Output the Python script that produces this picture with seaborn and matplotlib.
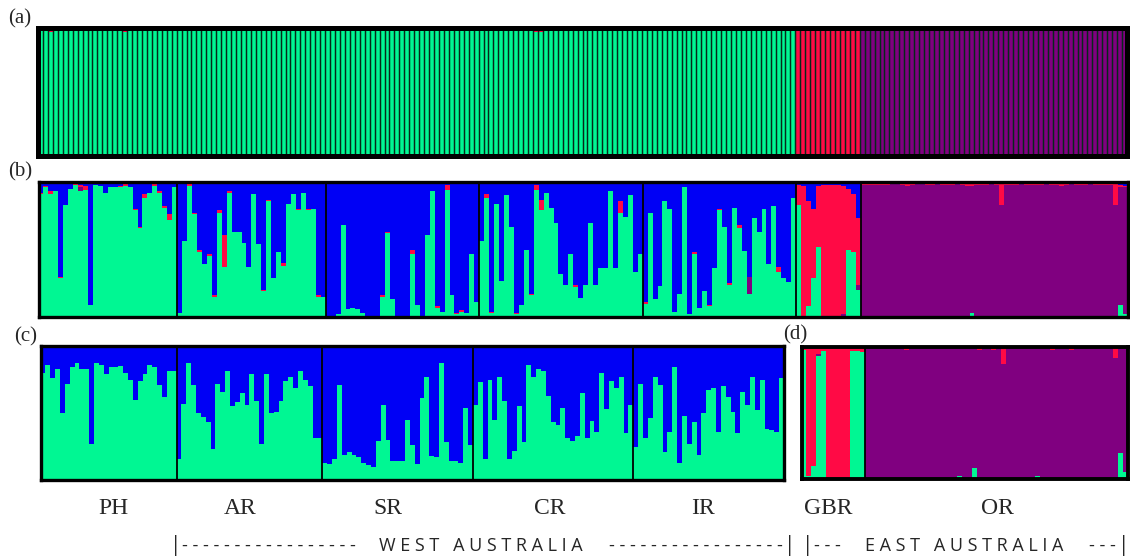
import numpy as np
import pandas as pd
import matplotlib
matplotlib.use("Agg")
import matplotlib.pyplot as plt
import seaborn as sns

# ---------------- data ----------------
populations = ["PH", "AR", "SR", "CR", "IR", "GBR", "OR"]

# panel (b): K=4 (green, purple, red, blue)
PH_b_green = [0.91,0.96,0.91,0.93,0.29,0.83,0.95,0.98,0.93,0.94,
              0.09,0.98,0.97,0.92,0.96,0.96,0.96,0.97,0.96,0.79,
              0.66,0.88,0.92,0.97,0.92,0.81,0.72,0.96]
PH_b_red = [0.01,0.01,0.02,0.00,0.01,0.00,0.00,0.01,0.02,0.03,
            0.00,0.00,0.00,0.00,0.00,0.00,0.01,0.02,0.00,0.01,
            0.01,0.03,0.00,0.02,0.01,0.01,0.04,0.00]
PH_b_purple = [0,0,0,0,0,0,0,0,0.03,0,
               0,0,0,0,0,0,0,0,0,0,
               0,0,0,0,0,0,0,0]

AR_b_green = [0.03,0.56,0.97,0.76,0.48,0.39,0.45,0.15,0.77,0.37,
              0.92,0.63,0.63,0.55,0.37,0.91,0.54,0.19,0.86,0.29,
              0.48,0.38,0.84,0.91,0.79,0.92,0.79,0.80,0.15,0.15]
AR_b_red = [0.00,0.00,0.02,0.01,0.02,0.00,0.02,0.01,0.02,0.24,
            0.01,0.00,0.00,0.00,0.00,0.00,0.00,0.01,0.01,0.00,
            0.00,0.02,0.00,0.00,0.01,0.00,0.01,0.00,0.01,0.00]
AR_b_purple = [0,0,0,0,0,0,0,0,0,0,
               0,0,0,0,0,0,0,0,0,0,
               0,0,0,0,0,0,0,0,0,0]

SR_b_green = [0.01,0.01,0.02,0.68,0.06,0.07,0.06,0.03,0.01,0.01,
              0.00,0.15,0.62,0.13,0.01,0.01,0.01,0.47,0.09,0.01,
              0.61,0.93,0.07,0.04,0.94,0.16,0.02,0.04,0.03,0.47,
              0.11]
SR_b_red = [0.00,0.00,0.00,0.00,0.00,0.00,0.00,0.00,0.00,0.00,
            0.00,0.01,0.01,0.00,0.00,0.00,0.00,0.03,0.00,0.00,
            0.00,0.00,0.01,0.00,0.04,0.00,0.01,0.01,0.00,0.00,
            0.00]
SR_b_purple = [0,0,0,0,0,0,0,0,0,0,
               0,0,0,0,0,0,0,0,0,0,
               0,0,0,0,0,0,0,0,0,0,
               0]

CR_b_green = [0.56,0.88,0.03,0.84,0.27,0.90,0.67,0.02,0.09,0.50,
              0.16,0.94,0.79,0.92,0.81,0.70,0.32,0.24,0.47,0.22,
              0.14,0.24,0.70,0.24,0.36,0.36,0.93,0.36,0.77,0.74,
              0.90,0.33,0.47]
CR_b_red = [0.00,0.03,0.01,0.00,0.00,0.00,0.00,0.01,0.00,0.00,
            0.01,0.04,0.08,0.00,0.00,0.00,0.00,0.00,0.00,0.02,
            0.00,0.00,0.00,0.00,0.00,0.00,0.00,0.00,0.09,0.00,
            0.00,0.00,0.00]
CR_b_purple = [0,0,0,0,0,0,0,0,0,0,
               0,0,0,0,0,0,0,0,0,0,
               0,0,0,0,0,0,0,0,0,0,
               0,0,0]

IR_b_green = [0.10,0.77,0.13,0.23,0.86,0.80,0.04,0.17,0.96,0.02,
              0.47,0.07,0.19,0.08,0.36,0.79,0.67,0.24,0.81,0.66,
              0.49,0.17,0.73,0.63,0.80,0.39,0.82,0.33,0.29,0.26,
              0.88]
IR_b_red = [0.01,0.00,0.00,0.00,0.00,0.00,0.00,0.00,0.00,0.00,
            0.01,0.00,0.00,0.01,0.00,0.01,0.00,0.01,0.00,0.02,
            0.00,0.00,0.00,0.00,0.00,0.00,0.00,0.04,0.00,0.00,
            0.00]
IR_b_purple = [0,0,0,0,0,0,0,0,0,0,
               0,0,0,0,0,0,0,0,0,0,
               0,0.13,0,0,0,0,0,0,0,0,
               0]

GBR_b_green = [0.83,0.00,0.08,0.29,0.52,0.00,0.00,0.00,0.00,0.00,0.50,0.48,0.20]
GBR_b_purple = [0.00,0.00,0.00,0.00,0.00,0.00,0.00,0.00,0.01,0.02,0.00,0.00,0.04]
GBR_b_blue = [0.02,0.03,0.14,0.20,0.03,0.02,0.02,0.02,0.02,0.03,0.05,0.09,0.27]

OR_b_green = [0,0,0,0,0,0,0,0,0,0,
              0,0,0,0,0,0,0,0,0,0,
              0,0,0.03,0,0,0,0,0,0,0,
              0,0,0,0,0,0.01,0,0,0,0,
              0,0,0,0,0,0,0,0,0,0,
              0,0,0.09,0.02]
OR_b_red = [0.01,0.01,0.01,0.01,0.01,0.01,0.00,0.00,0.01,0.02,
            0.01,0.00,0.00,0.01,0.01,0.00,0.01,0.01,0.01,0.00,
            0.01,0.02,0.02,0.01,0.01,0.01,0.00,0.01,0.16,0.01,
            0.01,0.01,0.00,0.01,0.01,0.01,0.01,0.00,0.01,0.01,
            0.02,0.01,0.00,0.01,0.01,0.01,0.00,0.01,0.01,0.01,
            0.01,0.16,0.02,0.01]
OR_b_blue = [0.01,0.01,0.01,0.01,0.01,0.01,0.01,0.01,0.01,0.01,
             0.01,0.01,0.01,0.01,0.01,0.01,0.01,0.01,0.01,0.01,
             0.01,0.01,0.01,0.01,0.01,0.01,0.01,0.01,0.01,0.01,
             0.01,0.01,0.01,0.01,0.01,0.01,0.01,0.01,0.01,0.01,
             0.01,0.01,0.01,0.01,0.01,0.01,0.01,0.01,0.01,0.01,
             0.01,0.01,0.02,0.03]

# panel (c): K=2 (green, blue) west populations only
PH_c_green = [0.80,0.86,0.76,0.83,0.50,0.72,0.84,0.87,0.83,0.83,
              0.27,0.87,0.86,0.79,0.84,0.84,0.85,0.80,0.75,0.60,
              0.74,0.79,0.86,0.84,0.71,0.62,0.81,0.81]
AR_c_green = [0.16,0.57,0.87,0.71,0.50,0.47,0.43,0.23,0.72,0.66,
              0.81,0.55,0.58,0.65,0.56,0.79,0.59,0.27,0.79,0.50,
              0.51,0.59,0.74,0.77,0.69,0.81,0.75,0.70,0.31,0.31]
SR_c_green = [0.13,0.12,0.16,0.71,0.19,0.21,0.19,0.17,0.13,0.11,
              0.10,0.29,0.56,0.30,0.14,0.14,0.14,0.45,0.26,0.12,
              0.61,0.77,0.18,0.17,0.87,0.28,0.14,0.14,0.13,0.54,
              0.26]
CR_c_green = [0.56,0.73,0.16,0.75,0.45,0.77,0.59,0.16,0.22,0.55,
              0.28,0.86,0.77,0.83,0.81,0.63,0.43,0.41,0.54,0.31,
              0.29,0.33,0.65,0.31,0.44,0.36,0.80,0.53,0.74,0.69,
              0.77,0.35,0.56]
IR_c_green = [0.25,0.72,0.31,0.46,0.77,0.71,0.21,0.36,0.84,0.13,
              0.48,0.27,0.43,0.19,0.50,0.67,0.69,0.36,0.70,0.62,
              0.51,0.35,0.66,0.56,0.77,0.52,0.75,0.38,0.37,0.36,
              0.76]

# panel (d): K=3 (green, purple, red) east populations only
GBR_d_green = [0.98,0.02,0.10,0.93,0.97,0.00,0.00,0.00,0.00,0.00,0.97,0.97,0.96]
GBR_d_purple = [0.00,0.00,0.00,0.02,0.00,0.00,0.00,0.01,0.01,0.01,0.00,0.00,0.00]
OR_d_green = [0,0,0,0,0,0,0,0,0,0,
              0,0,0,0,0,0,0,0,0,0.02,
              0,0,0.08,0,0,0,0,0,0,0,
              0,0,0,0,0,0.02,0,0,0,0.01,
              0.01,0.01,0.01,0,0,0,0,0,0,0,
              0,0,0.20,0.05]
OR_d_red = [0.01,0.01,0.01,0.01,0.01,0.01,0.01,0.01,0.02,0.01,
            0.01,0.01,0.01,0.01,0.00,0.01,0.01,0.01,0.01,0.01,
            0.01,0.01,0.01,0.02,0.01,0.01,0.02,0.01,0.13,0.01,
            0.01,0.01,0.01,0.01,0.01,0.01,0.01,0.01,0.02,0.01,
            0.01,0.01,0.02,0.01,0.01,0.01,0.01,0.01,0.01,0.01,
            0.01,0.08,0.01,0.01]

# panel (a): K=3 (green, purple, red); red share on top of each bar
PH_a_red = [0.01,0.01,0.03,0.01,0.01,0.01,0.01,0.01,0.01,0.01,
            0.01,0.01,0.01,0.01,0.01,0.01,0.01,0.03,0.01,0.01,
            0.01,0.01,0.01,0.01,0.01,0.01,0.01,0.01]
AR_a_red = [0.01,0.01,0.01,0.01,0.01,0.01,0.01,0.01,0.01,0.01,
            0.01,0.01,0.01,0.01,0.01,0.01,0.01,0.01,0.01,0.01,
            0.01,0.01,0.01,0.01,0.01,0.01,0.01,0.01,0.01,0.01]
SR_a_red = [0.01,0.01,0.01,0.01,0.01,0.01,0.01,0.01,0.01,0.01,
            0.01,0.01,0.01,0.01,0.01,0.01,0.01,0.01,0.01,0.01,
            0.01,0.01,0.01,0.01,0.01,0.01,0.01,0.01,0.01,0.01,
            0.01]
CR_a_red = [0.01,0.01,0.01,0.01,0.01,0.01,0.01,0.01,0.01,0.01,
            0.01,0.03,0.03,0.01,0.01,0.01,0.01,0.01,0.01,0.01,
            0.01,0.01,0.01,0.01,0.01,0.01,0.01,0.01,0.01,0.01,
            0.01,0.01,0.01]
IR_a_red = [0.01,0.01,0.01,0.01,0.01,0.01,0.01,0.01,0.01,0.01,
            0.01,0.01,0.01,0.01,0.01,0.01,0.01,0.01,0.01,0.01,
            0.01,0.01,0.01,0.01,0.01,0.01,0.01,0.01,0.01,0.01,
            0.01]
GBR_a_green = [0.01,0.00,0.00,0.01,0.01,0.00,0.00,0.00,0.00,0.00,0.01,0.01,0.00]
OR_a_red = [0.01,0.01,0.01,0.01,0.01,0.01,0.01,0.01,0.01,0.01,
            0.01,0.01,0.01,0.01,0.01,0.01,0.01,0.01,0.01,0.01,
            0.01,0.01,0.01,0.01,0.01,0.01,0.01,0.01,0.01,0.01,
            0.01,0.01,0.01,0.01,0.01,0.01,0.01,0.01,0.01,0.01,
            0.01,0.01,0.01,0.01,0.01,0.01,0.01,0.01,0.01,0.01,
            0.01,0.01,0.01,0.01]

panel_tags = ["(a)", "(b)", "(c)", "(d)"]
region_labels = ["W E S T   A U S T R A L I A", "E A S T   A U S T R A L I A"]

# ---------------- style ----------------
GREEN = "#00F793"
BLUE = "#0000F5"
RED = "#FF0A45"
PURPLE = "#800080"

sns.set_theme(style="white")
plt.rcParams["font.family"] = ["Liberation Serif", "DejaVu Serif"]

W, H = 1130, 557
fig = plt.figure(figsize=(W / 100, H / 100), dpi=100)


def add_ax(x0, y0, x1, y1):
    return fig.add_axes([x0 / W, 1 - y1 / H, (x1 - x0) / W, (y1 - y0) / H])


def draw_stack(ax, comps, colors, frame_lw):
    n = len(comps[0])
    cum = np.zeros(n)
    cums = []
    for c in comps:
        cum = cum + np.asarray(c, dtype=float)
        cums.append(cum.copy())
    df = pd.DataFrame({"ind": np.arange(n)})
    for i in range(len(cums)):
        df[f"c{i}"] = cums[i]
    for i in reversed(range(len(cums))):
        sns.barplot(data=df, x="ind", y=f"c{i}", color=colors[i], width=1.0,
                    native_scale=True, orient="x", saturation=1, errorbar=None,
                    linewidth=0, antialiased=False, ax=ax)
    ax.set_xlim(-0.5, n - 0.5)
    ax.set_ylim(0, 1)
    ax.set_xticks([])
    ax.set_yticks([])
    ax.set_xlabel("")
    ax.set_ylabel("")
    for s in ax.spines.values():
        s.set_visible(True)
        s.set_color("black")
        s.set_linewidth(frame_lw)
    return df


def dividers(ax, sizes):
    edges = np.cumsum(sizes)[:-1]
    for e in edges:
        ax.axvline(e - 0.5, color="black", lw=1.3)


def rem(*parts):
    tot = np.sum([np.asarray(p, dtype=float) for p in parts], axis=0)
    return np.clip(1 - tot, 0, 1)


# ----- panel (a) -----
west_a_red = PH_a_red + AR_a_red + SR_a_red + CR_a_red + IR_a_red
a_green = list(rem(west_a_red)) + GBR_a_green + [0.0] * len(OR_a_red)
a_purple = [0.0] * len(west_a_red) + [0.0] * len(GBR_a_green) + list(rem(OR_a_red))
a_red = west_a_red + list(rem(GBR_a_green)) + OR_a_red
ax_a = add_ax(38, 28, 1127, 155.5)
df_a = draw_stack(ax_a, [a_green, a_purple, a_red], [GREEN, PURPLE, RED], 3.6)
df_a["one"] = 1.0
sns.barplot(data=df_a, x="ind", y="one", fill=False, color="#062a1a", width=1.0,
            native_scale=True, orient="x", errorbar=None, linewidth=0.9, ax=ax_a)
ax_a.set_xlim(-0.5, len(a_green) - 0.5)
ax_a.set_ylim(0, 1)
ax_a.set_xticks([]); ax_a.set_yticks([]); ax_a.set_xlabel(""); ax_a.set_ylabel("")

# ----- panel (b) -----
west_green = PH_b_green + AR_b_green + SR_b_green + CR_b_green + IR_b_green
west_red = PH_b_red + AR_b_red + SR_b_red + CR_b_red + IR_b_red
west_purple = PH_b_purple + AR_b_purple + SR_b_purple + CR_b_purple + IR_b_purple
west_blue = list(rem(west_green, west_red, west_purple))
gbr_red = list(rem(GBR_b_green, GBR_b_purple, GBR_b_blue))
or_purple = list(rem(OR_b_green, OR_b_red, OR_b_blue))
b_green = west_green + GBR_b_green + OR_b_green
b_purple = west_purple + GBR_b_purple + or_purple
b_red = west_red + gbr_red + OR_b_red
b_blue = west_blue + GBR_b_blue + OR_b_blue
ax_b = add_ax(38.5, 182, 1128, 317)
draw_stack(ax_b, [b_green, b_purple, b_red, b_blue], [GREEN, PURPLE, RED, BLUE], 2.4)
sizes_b = [len(PH_b_green), len(AR_b_green), len(SR_b_green), len(CR_b_green),
           len(IR_b_green), len(GBR_b_green), len(OR_b_green)]
dividers(ax_b, sizes_b)

# ----- panel (c) -----
c_green = PH_c_green + AR_c_green + SR_c_green + CR_c_green + IR_c_green
ax_c = add_ax(40.5, 346, 784, 480)
draw_stack(ax_c, [c_green, list(rem(c_green))], [GREEN, BLUE], 2.4)
dividers(ax_c, sizes_b[:5])

# ----- panel (d) -----
gbr_d_red = list(rem(GBR_d_green, GBR_d_purple))
or_d_purple = list(rem(OR_d_green, OR_d_red))
d_green = GBR_d_green + OR_d_green
d_purple = GBR_d_purple + or_d_purple
d_red = gbr_d_red + OR_d_red
ax_d = add_ax(801.5, 347, 1127.5, 479)
draw_stack(ax_d, [d_green, d_purple, d_red], [GREEN, PURPLE, RED], 2.8)
dividers(ax_d, [len(GBR_d_green), len(OR_d_green)])

# ----- text -----
def ftext(x, y, s, **kw):
    fig.text(x / W, 1 - y / H, s, **kw)

for tag, (x, y) in zip(panel_tags, [(20, 19), (20, 172), (26, 337), (795, 335)]):
    ftext(x, y, tag, ha="center", va="center", fontsize=15)

for lab, x in zip(populations, [113, 240, 388, 550, 703, 828, 997]):
    ftext(x, 509, lab, ha="center", va="center", fontsize=17)

sans = ["Open Sans", "DejaVu Sans"]
ftext(176, 546, "|", ha="center", va="center", fontsize=15, family=sans)
ftext(790, 546, "|", ha="center", va="center", fontsize=15, family=sans)
ftext(182, 546, "- " * 16 + "-", ha="left", va="center", fontsize=13, family=sans)
ftext(783, 546, "- " * 16 + "-", ha="right", va="center", fontsize=13, family=sans)
ftext(481, 546, region_labels[0], ha="center", va="center", fontsize=13,
      family=sans)

ftext(808, 546, "|", ha="center", va="center", fontsize=15, family=sans)
ftext(1124, 546, "|", ha="center", va="center", fontsize=15, family=sans)
ftext(814, 546, "- - -", ha="left", va="center", fontsize=13, family=sans)
ftext(1116, 546, "- - -", ha="right", va="center", fontsize=13, family=sans)
ftext(964, 546, region_labels[1], ha="center", va="center",
      fontsize=13, family=sans)

fig.savefig("out.png", dpi=100)
